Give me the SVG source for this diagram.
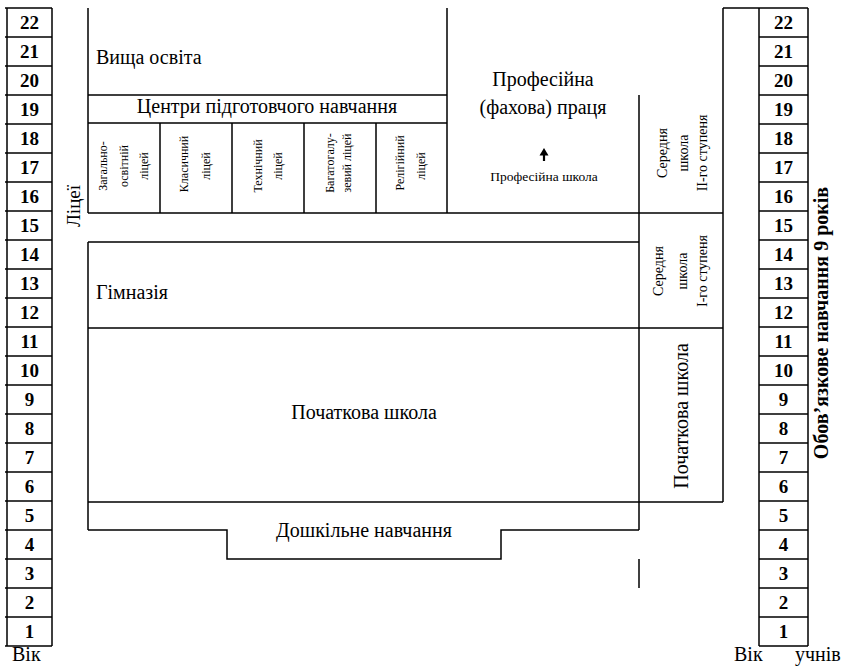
<svg xmlns="http://www.w3.org/2000/svg" width="850" height="666" viewBox="0 0 850 666" font-family="'Liberation Serif', 'Times New Roman', serif">
<style>
.ln{stroke:#000;stroke-width:1.5;fill:none}
text{font-family:"Liberation Serif","Times New Roman",serif;fill:#000}
.num{font-family:"Liberation Serif",serif;font-size:19px;font-weight:bold;text-anchor:middle}
.big{font-family:"Liberation Serif",serif;font-size:20px}
.mid{text-anchor:middle}
.ly{font-family:"Liberation Serif",serif;font-size:12px;text-anchor:middle}
.ss{font-family:"Liberation Serif",serif;font-size:14px;text-anchor:middle}
</style>
<rect width="850" height="666" fill="#fff"/>
<g id="age-left">
<path class="ln" d="M7,8V646M52,8V646M5,8H52M5,37H52M5,66H52M5,95H52M5,124H52M5,153H52M5,182H52M5,211H52M5,240H52M5,269H52M5,298H52M5,327H52M5,356H52M5,385H52M5,414H52M5,443H52M5,472H52M5,501H52M5,530H52M5,559H52M5,588H52M5,617H52M5,646H52"/>
<text class="num" x="29.5" y="28.5">22</text>
<text class="num" x="29.5" y="57.5">21</text>
<text class="num" x="29.5" y="86.5">20</text>
<text class="num" x="29.5" y="115.5">19</text>
<text class="num" x="29.5" y="144.5">18</text>
<text class="num" x="29.5" y="173.5">17</text>
<text class="num" x="29.5" y="202.5">16</text>
<text class="num" x="29.5" y="231.5">15</text>
<text class="num" x="29.5" y="260.5">14</text>
<text class="num" x="29.5" y="289.5">13</text>
<text class="num" x="29.5" y="318.5">12</text>
<text class="num" x="29.5" y="347.5">11</text>
<text class="num" x="29.5" y="376.5">10</text>
<text class="num" x="29.5" y="405.5">9</text>
<text class="num" x="29.5" y="434.5">8</text>
<text class="num" x="29.5" y="463.5">7</text>
<text class="num" x="29.5" y="492.5">6</text>
<text class="num" x="29.5" y="521.5">5</text>
<text class="num" x="29.5" y="550.5">4</text>
<text class="num" x="29.5" y="579.5">3</text>
<text class="num" x="29.5" y="608.5">2</text>
<text class="num" x="29.5" y="637.5">1</text>
</g>
<g id="age-right">
<path class="ln" d="M759,8V646M808,8V646M759,8H808M759,37H808M759,66H808M759,95H808M759,124H808M759,153H808M759,182H808M759,211H808M759,240H808M759,269H808M759,298H808M759,327H808M759,356H808M759,385H808M759,414H808M759,443H808M759,472H808M759,501H808M759,530H808M759,559H808M759,588H808M759,617H808M759,646H808"/>
<text class="num" x="783.5" y="28.5">22</text>
<text class="num" x="783.5" y="57.5">21</text>
<text class="num" x="783.5" y="86.5">20</text>
<text class="num" x="783.5" y="115.5">19</text>
<text class="num" x="783.5" y="144.5">18</text>
<text class="num" x="783.5" y="173.5">17</text>
<text class="num" x="783.5" y="202.5">16</text>
<text class="num" x="783.5" y="231.5">15</text>
<text class="num" x="783.5" y="260.5">14</text>
<text class="num" x="783.5" y="289.5">13</text>
<text class="num" x="783.5" y="318.5">12</text>
<text class="num" x="783.5" y="347.5">11</text>
<text class="num" x="783.5" y="376.5">10</text>
<text class="num" x="783.5" y="405.5">9</text>
<text class="num" x="783.5" y="434.5">8</text>
<text class="num" x="783.5" y="463.5">7</text>
<text class="num" x="783.5" y="492.5">6</text>
<text class="num" x="783.5" y="521.5">5</text>
<text class="num" x="783.5" y="550.5">4</text>
<text class="num" x="783.5" y="579.5">3</text>
<text class="num" x="783.5" y="608.5">2</text>
<text class="num" x="783.5" y="637.5">1</text>
</g>
<g id="connectors">
<path class="ln" d="M723,8H759M723,8V502"/>
<path class="ln" d="M88,8V213M447,8V213M88,95H447M88,123H447"/>
<path class="ln" d="M160,123V213M232,123V213M304,123V213M376,123V213"/>
<path class="ln" d="M88,213H723M639,95V530"/>
<path class="ln" d="M88,242V530M88,242H639M88,328H723M88,502H723"/>
<path class="ln" d="M88,530H227V559H501V530H639"/>
<path class="ln" d="M639,559V588"/>
</g>
<g id="vyshcha-osvita">
<text class="big" x="96" y="64">Вища освіта</text>
</g>
<g id="tsentry">
<text class="big mid" x="267" y="113">Центри підготовчого навчання</text>
</g>
<g id="profesiina-pratsia">
<text class="big mid" x="543" y="86">Професійна</text>
<text class="big mid" x="543" y="114">(фахова) праця</text>
</g>
<g id="profesiina-shkola">
<path d="M544,161V152" stroke="#000" stroke-width="2.2"/>
<path d="M539.5,155.5L544,148L548.5,155.5Z" fill="#000"/>
<text class="mid" x="544" y="181" font-size="13.5">Професійна школа</text>
</g>
<g id="lytsei">
<text class="ly" transform="translate(107,166) rotate(-90)">Загально-</text>
<text class="ly" transform="translate(128,166) rotate(-90)">освітній</text>
<text class="ly" transform="translate(148,166) rotate(-90)">ліцей</text>
<text class="ly" transform="translate(188,164) rotate(-90)">Класичний</text>
<text class="ly" transform="translate(210,166) rotate(-90)">ліцей</text>
<text class="ly" transform="translate(262,166) rotate(-90)">Технічний</text>
<text class="ly" transform="translate(282,166) rotate(-90)">ліцей</text>
<text class="ly" transform="translate(334,163) rotate(-90)">Багатогалу-</text>
<text class="ly" transform="translate(351,163) rotate(-90)">зевий ліцей</text>
<text class="ly" transform="translate(404,163) rotate(-90)">Релігійний</text>
<text class="ly" transform="translate(425,166) rotate(-90)">ліцей</text>
</g>
<g id="litsei-label">
<text transform="translate(80,206) rotate(-90)" font-size="19" text-anchor="middle">Ліцеї</text>
</g>
<g id="serednia-2">
<text class="ss" transform="translate(667,153) rotate(-90)">Середня</text>
<text class="ss" transform="translate(688,153) rotate(-90)">школа</text>
<text class="ss" transform="translate(707,153) rotate(-90)">II-го ступеня</text>
</g>
<g id="serednia-1">
<text class="ss" transform="translate(663,271) rotate(-90)">Середня</text>
<text class="ss" transform="translate(687,271) rotate(-90)">школа</text>
<text class="ss" transform="translate(707,271) rotate(-90)">I-го ступеня</text>
</g>
<g id="pochatkova-right">
<text transform="translate(688,416) rotate(-90)" font-size="20" text-anchor="middle">Початкова школа</text>
</g>
<g id="gimnaziia">
<text class="big" x="96" y="299">Гімназія</text>
</g>
<g id="pochatkova">
<text class="big mid" x="364" y="419">Початкова школа</text>
</g>
<g id="doshkilne">
<text class="big mid" x="364" y="537">Дошкільне навчання</text>
</g>
<g id="oboviazkove">
<text transform="translate(828,323) rotate(-90)" font-size="20" font-weight="bold" text-anchor="middle">Обов’язкове навчання 9 років</text>
</g>
<g id="axis-labels">
<text x="12" y="661" font-size="20">Вік</text>
<text x="734" y="661" font-size="20">Вік</text>
<text x="795" y="661" font-size="20">учнів</text>
</g>
</svg>
